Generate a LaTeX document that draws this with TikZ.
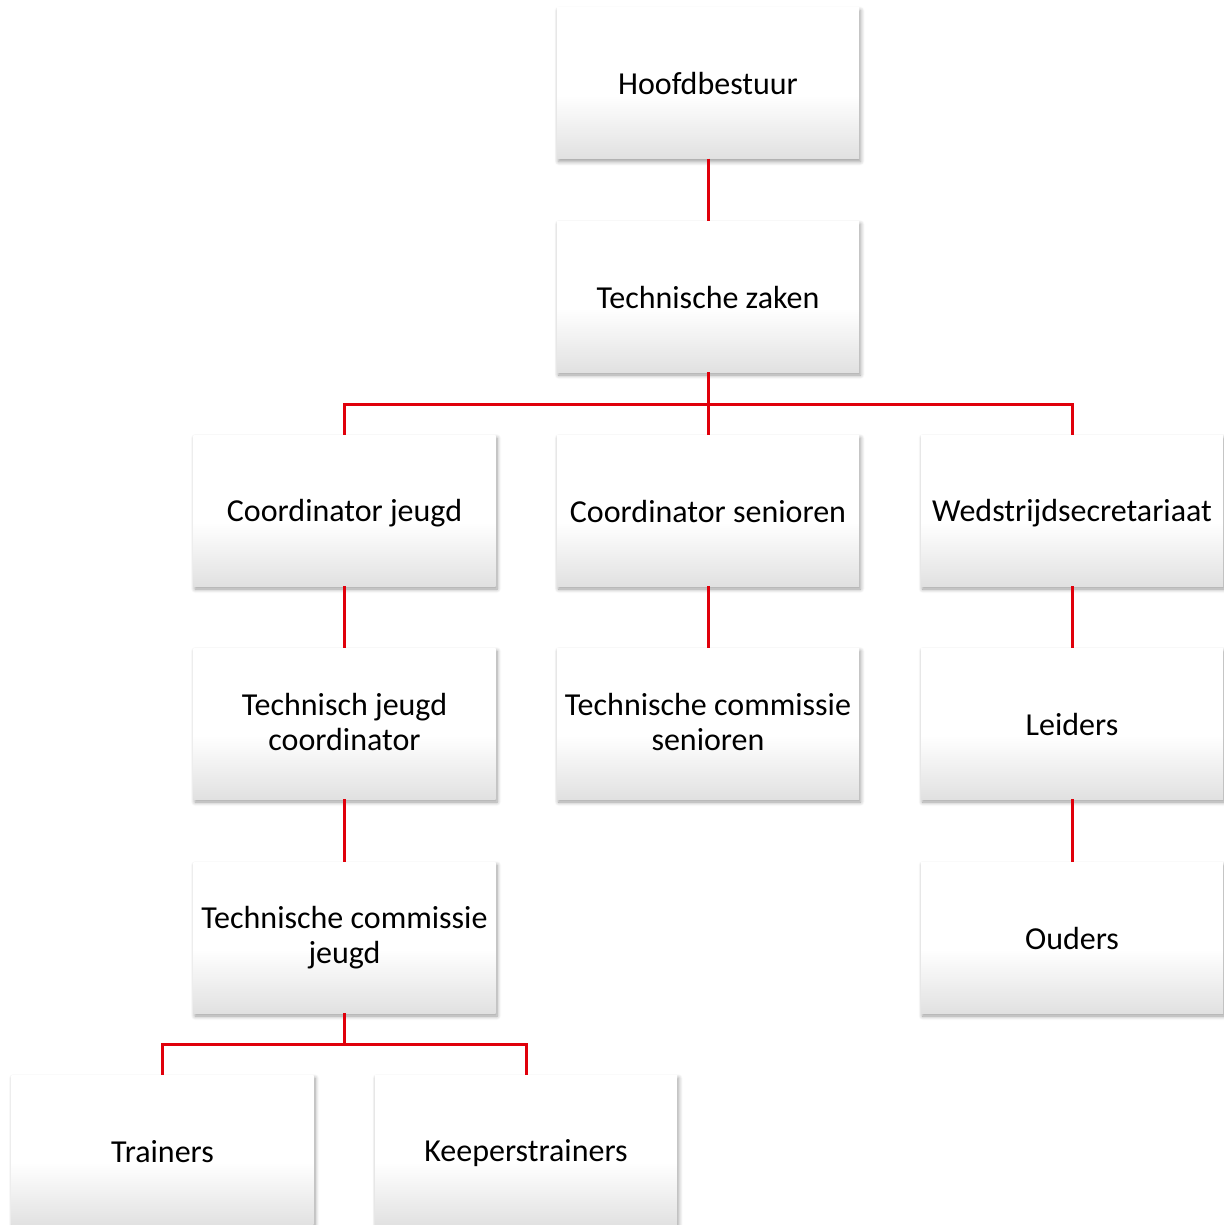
\documentclass[tikz,border=0pt]{standalone}
\usepackage{fontspec}
\setmainfont{Carlito}
\usetikzlibrary{shadows.blur}
\definecolor{linkred}{HTML}{E0000B}
\definecolor{boxgray}{HTML}{E1E1E1}
\pgfdeclareverticalshading{boxshade}{100bp}{color(0bp)=(boxgray); color(25bp)=(boxgray); color(46bp)=(white); color(75bp)=(white); color(100bp)=(white)}
\newcommand{\bxstrut}{\rule[-3pt]{0pt}{30pt}}
\begin{document}
\begin{tikzpicture}[x=1pt,y=-1pt,
  orgbox/.style={rectangle, minimum width=302pt, minimum height=151pt, inner sep=0pt,
    align=center, font=\fontsize{32}{35}\selectfont,
    shading=boxshade,
    execute at begin node=\bxstrut, execute at end node=\bxstrut,
    blur shadow={shadow xshift=1.5pt, shadow yshift=-3pt, shadow opacity=40,
      shadow blur steps=6, shadow blur radius=4pt}},
  link/.style={draw=linkred, line width=3pt}]
\useasboundingbox (0,0) rectangle (1223,1225);
\node[orgbox] (hb) at (708,83) {Hoofdbestuur};
\node[orgbox] (tz) at (708,296.5) {Technische zaken};
\node[orgbox] (cj) at (344.5,510.5) {Coordinator jeugd};
\node[orgbox] (cs) at (708,510.5) {Coordinator senioren};
\node[orgbox] (ws) at (1072,510.5) {Wedstrijdsecretariaat};
\node[orgbox] (tjc) at (344.5,723.5) {Technisch jeugd\\coordinator};
\node[orgbox] (tcs) at (708,723.5) {Technische commissie\\senioren};
\node[orgbox] (ld) at (1072,723.5) {Leiders};
\node[orgbox] (tcj) at (344.5,937.5) {Technische commissie\\jeugd};
\node[orgbox] (od) at (1072,937.5) {Ouders};
\node[orgbox] (tr) at (162.5,1150.5) {Trainers};
\node[orgbox] (kt) at (526,1150.5) {Keeperstrainers};
\coordinate (bus1) at (708,404);
\coordinate (bus2) at (344.5,1044);
\draw[link] (hb.south) -- (tz.north);
\draw[link] (tz.south) -- (bus1);
\draw[link] (cj.north) |- (bus1) -| (ws.north);
\draw[link] (bus1) -- (cs.north);
\draw[link] (cj.south) -- (tjc.north);
\draw[link] (tjc.south) -- (tcj.north);
\draw[link] (cs.south) -- (tcs.north);
\draw[link] (ws.south) -- (ld.north);
\draw[link] (ld.south) -- (od.north);
\draw[link] (tcj.south) -- (bus2);
\draw[link] (tr.north) |- (bus2) -| (kt.north);
\end{tikzpicture}
\end{document}
